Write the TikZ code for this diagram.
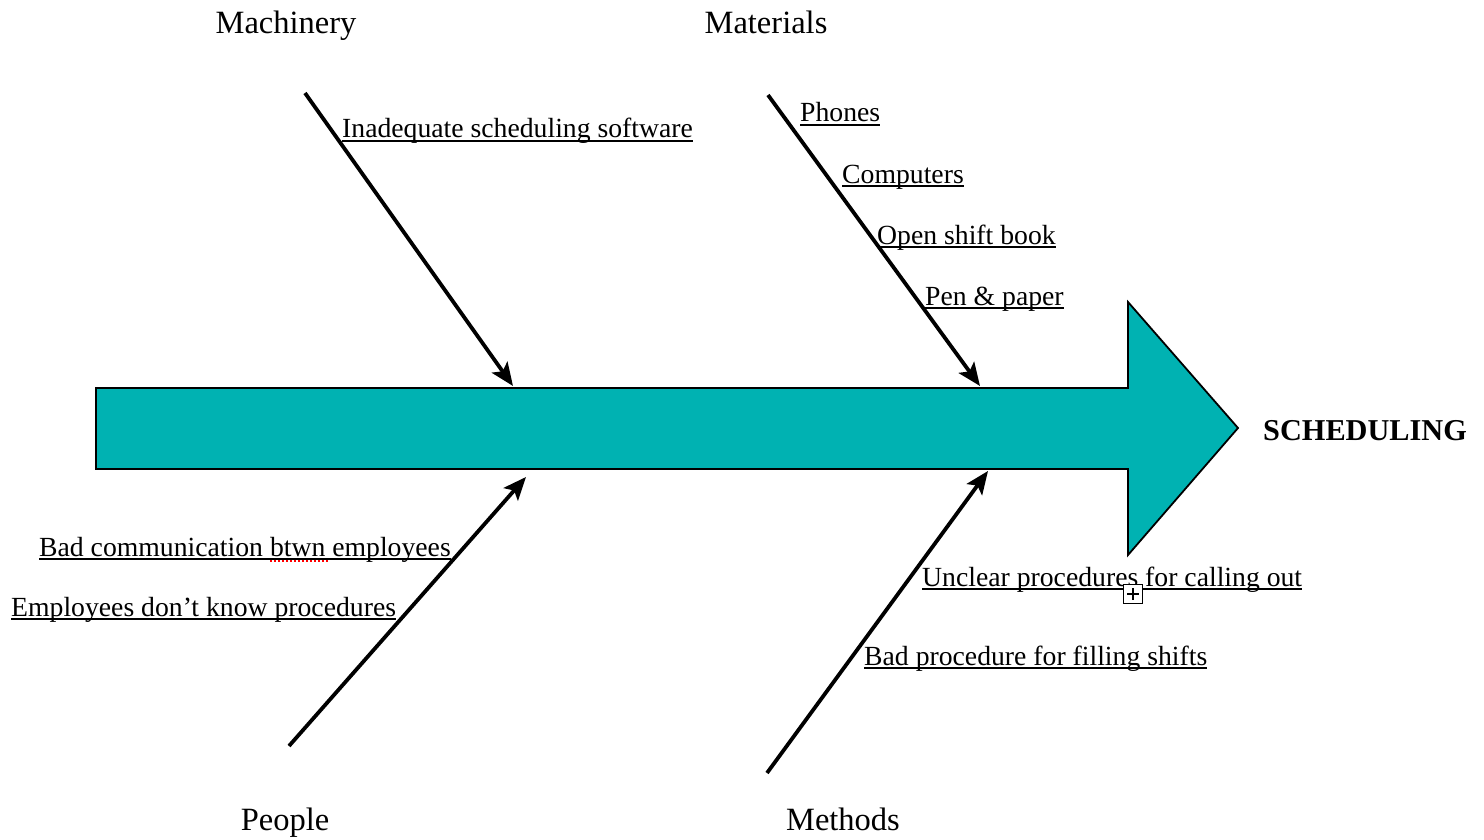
\documentclass[tikz,border=0pt]{standalone}
\usepackage{fontspec}
\setmainfont{Liberation Serif}
\usetikzlibrary{arrows.meta,calc}
\definecolor{spine}{RGB}{0,178,178}
\tikzset{
  spinearrow/.style={fill=spine, draw=black, line width=1.8pt, line join=miter},
  bone/.style={line width=3.8pt, -{Stealth[length=23pt,width=19pt,inset=5pt]}},
  category/.style={font=\fontsize{32.5}{36}\selectfont, inner sep=0pt, anchor=base},
  cause/.style={font=\fontsize{27.7}{32}\selectfont, inner sep=0pt, anchor=base west},
  causeline/.style={line width=1.8pt},
  effect/.style={font=\fontsize{30.3}{35}\selectfont\bfseries, inner sep=0pt, anchor=base west},
}
% underlined cause: name, position, text
\newcommand\causetext[3]{%
  \node[cause] (#1) at (#2) {#3};
  \draw[causeline] ($(#1.base west)+(0,3)$) -- ($(#1.base east)+(0,3)$);}
\begin{document}
\begin{tikzpicture}[x=1pt,y=-1pt]
\useasboundingbox (0,0) rectangle (1484,840);

% spine
\draw[spinearrow] (96,388) -- (1128,388) -- (1128,302) -- (1238,428)
  -- (1128,555) -- (1128,469) -- (96,469) -- cycle;
\node[effect] (effect) at (1263,440) {SCHEDULING};

% categories
\node[category] (mach) at (286,34) {Machinery};
\node[category] (mat)  at (766,34) {Materials};
\node[category] (peop) at (285,830) {People};
\node[category] (meth) at (843,830) {Methods};

% bones
\coordinate (machT) at (305,93);  \coordinate (machH) at (513,386);
\coordinate (matT)  at (768,95);  \coordinate (matH)  at (980,386);
\coordinate (peopT) at (289,746); \coordinate (peopH) at (526,477);
\coordinate (methT) at (767,773); \coordinate (methH) at (988,471);
\draw[bone] (machT) -- (machH);
\draw[bone] (matT) -- (matH);
\draw[bone] (peopT) -- (peopH);
\draw[bone] (methT) -- (methH);

% causes
\causetext{c1}{342,138}{Inadequate scheduling software}
\causetext{c2}{800,122}{Phones}
\causetext{c3}{842,183}{Computers}
\causetext{c4}{877,244}{Open shift book}
\causetext{c5}{925,305}{Pen \& paper}
\causetext{c6}{39,556}{Bad communication btwn employees}
\causetext{c7}{11,616}{Employees don’t know procedures}
\causetext{c8}{922,586}{Unclear procedures for calling out}
\causetext{c9}{864,665}{Bad procedure for filling shifts}

% spelling mark under "btwn"
\draw[red, line width=2pt, dash pattern=on 2pt off 2pt] (270,561) -- (328,561);

% expand box
\node[draw, fill=white, line width=1.3pt, minimum size=19pt, inner sep=0pt] (plusbox) at (1133,594) {};
\draw[line width=1.3pt] ($(plusbox.center)+(-6,0)$) -- ($(plusbox.center)+(6,0)$);
\draw[line width=1.3pt] ($(plusbox.center)+(0,-6)$) -- ($(plusbox.center)+(0,6)$);
\end{tikzpicture}
\end{document}
